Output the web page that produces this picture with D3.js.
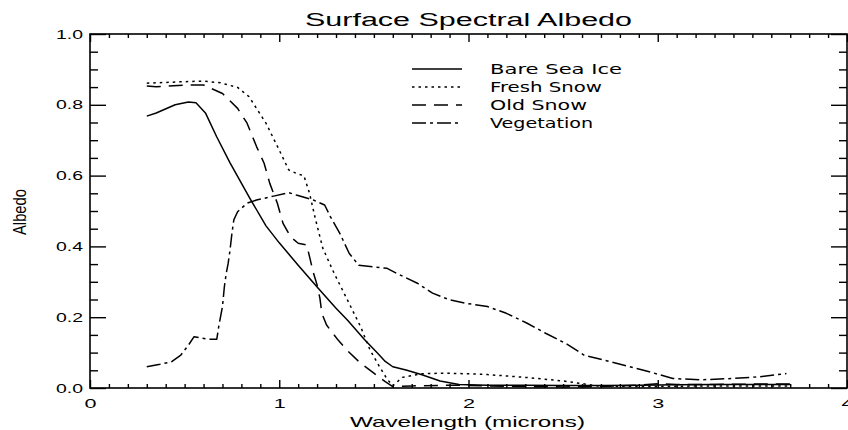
<!DOCTYPE html>
<html>
<head>
<meta charset="utf-8">
<script src="https://cdn.jsdelivr.net/npm/d3@7"></script>
<style>
  html, body { margin: 0; padding: 0; background: #fff; }
  svg { display: block; }
</style>
</head>
<body>
<div id="chart"></div>
<script>
// ---------------- data ----------------
const titleText = "Surface Spectral Albedo";
const xTitle = "Wavelength (microns)";
const yTitle = "Albedo";

const xTickValues = [0, 1, 2, 3, 4];
const xTickLabels = ["0", "1", "2", "3", "4"];
const yTickValues = [0, 0.2, 0.4, 0.6, 0.8, 1.0];
const yTickLabels = ["0.0", "0.2", "0.4", "0.6", "0.8", "1.0"];

const seriesNames = ["Bare Sea Ice", "Fresh Snow", "Old Snow", "Vegetation"];

const bareIceX = [0.30,0.35,0.45,0.52,0.56,0.61,0.67,0.74,0.85,0.93,1.00,1.10,1.20,1.30,1.36,1.45,1.52,1.56,1.60,1.67,1.75,1.85,1.95,2.10,2.30,2.50,2.70,2.90,3.10,3.30,3.50,3.70];
const bareIceY = [0.768,0.777,0.800,0.808,0.806,0.777,0.709,0.636,0.531,0.458,0.410,0.347,0.285,0.225,0.192,0.137,0.098,0.075,0.060,0.051,0.038,0.020,0.010,0.008,0.008,0.007,0.007,0.008,0.009,0.010,0.010,0.010];

const freshSnowX = [0.30,0.48,0.60,0.69,0.78,0.84,0.93,1.00,1.05,1.10,1.13,1.16,1.19,1.23,1.29,1.36,1.43,1.48,1.53,1.57,1.60,1.65,1.75,1.86,2.00,2.10,2.30,2.50,2.68,2.90,3.10,3.30,3.50,3.70];
const freshSnowY = [0.861,0.865,0.867,0.862,0.849,0.823,0.748,0.672,0.616,0.604,0.600,0.550,0.480,0.395,0.324,0.249,0.173,0.107,0.060,0.025,0.006,0.030,0.040,0.042,0.040,0.038,0.030,0.020,0.006,0.004,0.005,0.006,0.006,0.006];

const oldSnowX = [0.30,0.35,0.53,0.60,0.70,0.78,0.83,0.88,0.92,0.95,0.99,1.02,1.06,1.10,1.145,1.16,1.18,1.20,1.215,1.225,1.25,1.31,1.365,1.43,1.50,1.56,1.60,1.70,1.90,2.10,2.30,2.50,2.70,2.90,3.00,3.10,3.30,3.50,3.70];
const oldSnowY = [0.853,0.851,0.856,0.856,0.832,0.790,0.748,0.682,0.635,0.578,0.522,0.465,0.427,0.409,0.404,0.371,0.326,0.291,0.253,0.211,0.178,0.136,0.103,0.070,0.042,0.018,0.004,0.006,0.008,0.006,0.004,0.003,0.004,0.008,0.012,0.010,0.010,0.011,0.011];

const vegetationX = [0.30,0.37,0.43,0.48,0.52,0.55,0.62,0.67,0.68,0.70,0.71,0.72,0.73,0.74,0.75,0.76,0.78,0.83,0.88,0.97,1.05,1.09,1.18,1.24,1.27,1.32,1.37,1.42,1.50,1.57,1.62,1.73,1.81,1.90,1.99,2.10,2.20,2.31,2.41,2.52,2.61,2.75,2.92,3.08,3.22,3.40,3.54,3.68];
const vegetationY = [0.060,0.067,0.074,0.093,0.121,0.145,0.138,0.138,0.173,0.230,0.286,0.324,0.352,0.390,0.437,0.475,0.498,0.522,0.531,0.542,0.552,0.545,0.531,0.517,0.484,0.437,0.380,0.347,0.342,0.338,0.324,0.296,0.268,0.249,0.239,0.230,0.211,0.183,0.154,0.124,0.093,0.074,0.051,0.027,0.023,0.027,0.032,0.041];

// ---------------- layout ----------------
const W = 848, H = 430;
const margin = { top: 34, right: 1, bottom: 42, left: 90 };
const iw = W - margin.left - margin.right;
const ih = H - margin.top - margin.bottom;

const dashes = ["none", "2.5,4", "14,8", "14,4,3,4"];

const svg = d3.select("#chart").append("svg")
  .attr("width", W).attr("height", H)
  .style("font-family", "'Liberation Sans', Arial, Helvetica, sans-serif");

const g = svg.append("g").attr("transform", `translate(${margin.left},${margin.top})`);

const x = d3.scaleLinear().domain([0, 4]).range([0, iw]);
const y = d3.scaleLinear().domain([0, 1]).range([ih, 0]);

const xMinor = d3.range(0, 40.5, 1).map(d => d / 10).filter(d => !xTickValues.includes(d));
const yMinor = d3.range(0, 20.5, 1).map(d => d / 20).filter(d => !yTickValues.some(v => Math.abs(v - d) < 1e-9));

function styleAxis(sel) {
  sel.select(".domain").remove();
  sel.selectAll(".tick line").attr("stroke", "#000").attr("stroke-width", 1.4);
}

// bottom axis (major with labels)
const gxb = g.append("g").attr("transform", `translate(0,${ih})`)
  .call(d3.axisBottom(x).tickValues(xTickValues).tickFormat((d, i) => xTickLabels[i])
    .tickSizeInner(-8).tickSizeOuter(0).tickPadding(11));
styleAxis(gxb);
gxb.selectAll("text").attr("font-size", 13).attr("fill", "#000")
  .attr("textLength", 12).attr("lengthAdjust", "spacingAndGlyphs");
g.append("g").attr("transform", `translate(0,${ih})`)
  .call(d3.axisBottom(x).tickValues(xMinor).tickFormat("").tickSizeInner(-4).tickSizeOuter(0))
  .call(styleAxis);
// top axis
g.append("g").call(d3.axisTop(x).tickValues(xTickValues).tickFormat("").tickSizeInner(-8).tickSizeOuter(0)).call(styleAxis);
g.append("g").call(d3.axisTop(x).tickValues(xMinor).tickFormat("").tickSizeInner(-4).tickSizeOuter(0)).call(styleAxis);

// left axis
const gyl = g.append("g")
  .call(d3.axisLeft(y).tickValues(yTickValues).tickFormat((d, i) => yTickLabels[i])
    .tickSizeInner(-16).tickSizeOuter(0).tickPadding(7));
styleAxis(gyl);
gyl.selectAll("text").attr("font-size", 13).attr("fill", "#000")
  .attr("textLength", 27).attr("lengthAdjust", "spacingAndGlyphs");
g.append("g").call(d3.axisLeft(y).tickValues(yMinor).tickFormat("").tickSizeInner(-8).tickSizeOuter(0)).call(styleAxis);
// right axis
g.append("g").attr("transform", `translate(${iw},0)`)
  .call(d3.axisRight(y).tickValues(yTickValues).tickFormat("").tickSizeInner(-16).tickSizeOuter(0)).call(styleAxis);
g.append("g").attr("transform", `translate(${iw},0)`)
  .call(d3.axisRight(y).tickValues(yMinor).tickFormat("").tickSizeInner(-8).tickSizeOuter(0)).call(styleAxis);

// frame
g.append("rect").attr("x", x(0)).attr("y", y(1)).attr("width", x(4) - x(0)).attr("height", y(0) - y(1))
  .attr("fill", "none").attr("stroke", "#000").attr("stroke-width", 1.6);

// series
const series = [
  { name: seriesNames[0], xs: bareIceX, ys: bareIceY, dash: dashes[0] },
  { name: seriesNames[1], xs: freshSnowX, ys: freshSnowY, dash: dashes[1] },
  { name: seriesNames[2], xs: oldSnowX, ys: oldSnowY, dash: dashes[2] },
  { name: seriesNames[3], xs: vegetationX, ys: vegetationY, dash: dashes[3] }
];

const line = d3.line().x(d => x(d[0])).y(d => y(d[1]));

series.forEach(s => {
  g.append("path")
    .datum(s.xs.map((v, i) => [v, s.ys[i]]))
    .attr("d", line)
    .attr("fill", "none")
    .attr("stroke", "#000")
    .attr("stroke-width", 1.5)
    .attr("stroke-linejoin", "round")
    .attr("stroke-dasharray", s.dash);
});

// legend
const legX0 = 412 - margin.left, legX1 = 462 - margin.left, legTx = 490 - margin.left;
const legY = [69, 87, 105, 123];
const legLen = [132, 112, 97, 103];
series.forEach((s, i) => {
  const yy = legY[i] - margin.top;
  g.append("line").attr("x1", legX0).attr("x2", legX1).attr("y1", yy).attr("y2", yy)
    .attr("stroke", "#000").attr("stroke-width", 1.5).attr("stroke-dasharray", s.dash);
  g.append("text").attr("x", legTx).attr("y", yy + 5).text(s.name)
    .attr("font-family", "'DejaVu Sans', sans-serif").attr("font-size", 14)
    .attr("textLength", legLen[i]).attr("lengthAdjust", "spacingAndGlyphs");
});

// titles
svg.append("text").attr("x", margin.left + iw / 2).attr("y", 26).attr("text-anchor", "middle")
  .attr("font-size", 18).attr("textLength", 327).attr("lengthAdjust", "spacingAndGlyphs").text(titleText);
svg.append("text").attr("x", margin.left + iw / 2 - 1).attr("y", 427).attr("text-anchor", "middle")
  .attr("font-size", 15).attr("textLength", 235).attr("lengthAdjust", "spacingAndGlyphs").text(xTitle);
svg.append("text").attr("transform", `translate(26,${margin.top + y(0.5) + 1}) rotate(-90)`).attr("text-anchor", "middle")
  .attr("font-size", 18).attr("textLength", 46).attr("lengthAdjust", "spacingAndGlyphs").text(yTitle);
</script>
</body>
</html>
